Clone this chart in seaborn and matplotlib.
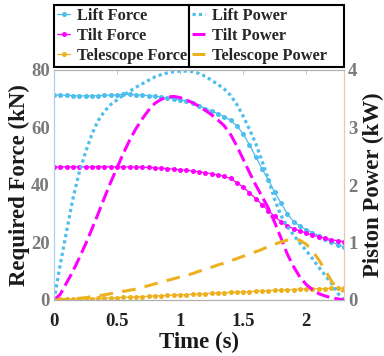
import numpy as np
import matplotlib
matplotlib.use("Agg")
import matplotlib.pyplot as plt
import seaborn as sns
from matplotlib.lines import Line2D

sns.set_theme(style="white")
plt.rcParams['font.family'] = ['Liberation Serif', 'DejaVu Serif']
plt.rcParams['font.weight'] = 'bold'

# sampling grid (s)
time_s = np.linspace(0, 2.3, 47)

lift_force = [71.4, 71.3, 71.2, 71.1, 71.0, 71.0, 71.0, 71.1, 71.2, 71.3, 71.4, 71.5,
              71.5, 71.4, 71.3, 71.1, 70.9, 70.6, 70.3, 70.0, 69.6, 69.2, 68.6, 67.6,
              66.6, 65.7, 64.8, 63.8, 62.5, 60.5, 57.8, 54.0, 49.8, 45.6, 41.8, 37.5,
              33.8, 30.0, 27.3, 25.7, 24.5, 23.4, 22.4, 21.3, 20.3, 19.3, 18.4]
tilt_force = [46.3, 46.3, 46.3, 46.3, 46.3, 46.3, 46.3, 46.3, 46.3, 46.3, 46.3, 46.3,
              46.3, 46.2, 46.2, 46.1, 46.0, 45.8, 45.7, 45.5, 45.3, 45.1, 44.9, 44.6,
              44.3, 43.9, 43.5, 43.0, 42.3, 40.8, 39.3, 37.3, 35.3, 33.2, 31.1, 29.1,
              27.2, 25.8, 24.8, 24.0, 23.3, 22.6, 22.0, 21.5, 21.0, 20.6, 20.3]
telescope_force = [0.2, 0.25, 0.3, 0.35, 0.4, 0.45, 0.5, 0.55, 0.6, 0.7, 0.8, 0.9,
                   1.0, 1.1, 1.2, 1.3, 1.4, 1.5, 1.6, 1.7, 1.8, 1.9, 2.0, 2.1,
                   2.2, 2.3, 2.45, 2.55, 2.65, 2.75, 2.85, 2.95, 3.05, 3.15, 3.25, 3.35,
                   3.45, 3.55, 3.65, 3.75, 3.85, 3.9, 3.95, 4.0, 4.05, 4.1, 4.15]

lift_power = [0.0, 0.62, 1.2, 1.76, 2.22, 2.57, 2.88, 3.12, 3.28, 3.4, 3.48, 3.56,
              3.63, 3.7, 3.76, 3.82, 3.88, 3.92, 3.95, 3.97, 3.98, 3.98, 3.97, 3.94,
              3.89, 3.82, 3.75, 3.67, 3.56, 3.4, 3.2, 2.97, 2.72, 2.42, 2.1, 1.75,
              1.47, 1.28, 1.13, 0.99, 0.86, 0.72, 0.57, 0.43, 0.29, 0.12, 0.0]
tilt_power = [0.0, 0.1, 0.3, 0.5, 0.73, 0.97, 1.23, 1.5, 1.78, 2.05, 2.3, 2.55,
              2.78, 2.98, 3.15, 3.3, 3.42, 3.49, 3.53, 3.54, 3.52, 3.48, 3.43, 3.37,
              3.3, 3.22, 3.13, 3.03, 2.88, 2.68, 2.45, 2.22, 2.0, 1.8, 1.6, 1.35,
              1.08, 0.8, 0.58, 0.4, 0.27, 0.18, 0.11, 0.07, 0.04, 0.02, 0.0]
telescope_power = [0.0, 0.0, 0.01, 0.02, 0.03, 0.04, 0.06, 0.07, 0.09, 0.11, 0.13, 0.15,
                   0.17, 0.19, 0.22, 0.25, 0.28, 0.31, 0.34, 0.37, 0.4, 0.43, 0.46, 0.5,
                   0.53, 0.57, 0.61, 0.64, 0.68, 0.72, 0.76, 0.8, 0.84, 0.88, 0.93, 0.97,
                   1.01, 1.04, 1.05, 1.04, 0.97, 0.85, 0.7, 0.52, 0.33, 0.19, 0.15]

x_ticks = [0, 0.5, 1, 1.5, 2]
x_ticklabels = ['0', '0.5', '1', '1.5', '2']
force_ticks = [0, 20, 40, 60, 80]
power_ticks = [0, 1, 2, 3, 4]

c_lift = '#4DBEEE'
c_tilt = '#FF00FF'
c_tele = '#EDB120'

fig = plt.figure(figsize=(3.84, 3.56), dpi=100)
ax = fig.add_axes([54/384, 1 - 300/356, 290/384, 230/356])
ax2 = ax.twinx()

mk = dict(marker='o', markersize=3.6, markeredgewidth=0, linewidth=0.9)
sns.lineplot(x=time_s, y=lift_force, ax=ax, color=c_lift, **mk)
sns.lineplot(x=time_s, y=tilt_force, ax=ax, color=c_tilt, **mk)
sns.lineplot(x=time_s, y=telescope_force, ax=ax, color=c_tele, **mk)

ls_lift = (0, (1.0, 1.0))
ls_tilt = (0, (4.3, 1.7))
ls_tele = (0, (4.5, 3.0))
sns.lineplot(x=time_s, y=lift_power, ax=ax2, color=c_lift, linewidth=2.3,
             linestyle=ls_lift, dash_capstyle='butt')
sns.lineplot(x=time_s, y=tilt_power, ax=ax2, color=c_tilt, linewidth=2.2,
             linestyle=ls_tilt, dash_capstyle='butt')
sns.lineplot(x=time_s, y=telescope_power, ax=ax2, color=c_tele, linewidth=2.2,
             linestyle=ls_tele, dash_capstyle='butt')

ax.set_xlim(0, 2.3)
ax.set_ylim(0, 80)
ax2.set_ylim(0, 4)
ax.set_xticks(x_ticks)
ax.set_xticklabels(x_ticklabels)
ax.set_yticks(force_ticks)
ax2.set_yticks(power_ticks)

tick_gray = '#7a7a7a'
ax.tick_params(axis='x', direction='in', length=3, width=0.6, color='#bbbbbb',
               labelsize=13.5, labelcolor='#222222', pad=9, top=True)
ax.tick_params(axis='y', direction='in', length=0, labelsize=13.5, labelcolor=tick_gray, pad=3)
ax2.tick_params(axis='y', direction='in', length=0, labelsize=13.5, labelcolor=tick_gray, pad=3)

for a in (ax, ax2):
    for s in a.spines.values():
        s.set_visible(True)
        s.set_linewidth(0.8)
    a.spines['left'].set_color('#a9cfe9')
    a.spines['right'].set_color('#efc3ad')
    a.spines['bottom'].set_color('#b0b0b0')
    a.spines['top'].set_color('#b0b0b0')

ax.set_xlabel('Time (s)', fontsize=16.5, fontweight='bold', color='#1a1a1a', labelpad=2)
ax.set_ylabel('Required Force (kN)', fontsize=16.5, fontweight='bold', color='#1a1a1a', labelpad=1)
ax2.set_ylabel('Piston Power (kW)', fontsize=16.5, fontweight='bold', color='#1a1a1a', labelpad=4)

# legends
h_force = [Line2D([], [], color=c, marker='o', markersize=3.6, markeredgewidth=0, linewidth=0.9)
           for c in (c_lift, c_tilt, c_tele)]
h_power = [Line2D([], [], color=c_lift, linewidth=2.3, linestyle=ls_lift, dash_capstyle='butt'),
           Line2D([], [], color=c_tilt, linewidth=2.2, linestyle=ls_tilt, dash_capstyle='butt'),
           Line2D([], [], color=c_tele, linewidth=2.2, linestyle=ls_tele, dash_capstyle='butt')]
leg_kw = dict(loc='upper left', mode='expand', borderaxespad=0, frameon=True, fancybox=False,
              prop={'family': 'Liberation Serif', 'weight': 'bold', 'size': 11.8},
              handlelength=0.8, handletextpad=0.4, labelspacing=0.25, borderpad=0.2)
leg1 = fig.legend(h_force, ['Lift Force', 'Tilt Force', 'Telescope Force'],
                  bbox_to_anchor=(54/384, 1 - 5/356, 135/384, 0.001), **leg_kw)
leg2 = fig.legend(h_power, ['Lift Power', 'Tilt Power', 'Telescope Power'],
                  bbox_to_anchor=(189/384, 1 - 5/356, 155/384, 0.001), **leg_kw)
for lg in (leg1, leg2):
    fr = lg.get_frame()
    fr.set_edgecolor('black')
    fr.set_linewidth(1.5)
    fr.set_facecolor('white')
    fr.set_alpha(1)

fig.savefig('out.png', dpi=100)
